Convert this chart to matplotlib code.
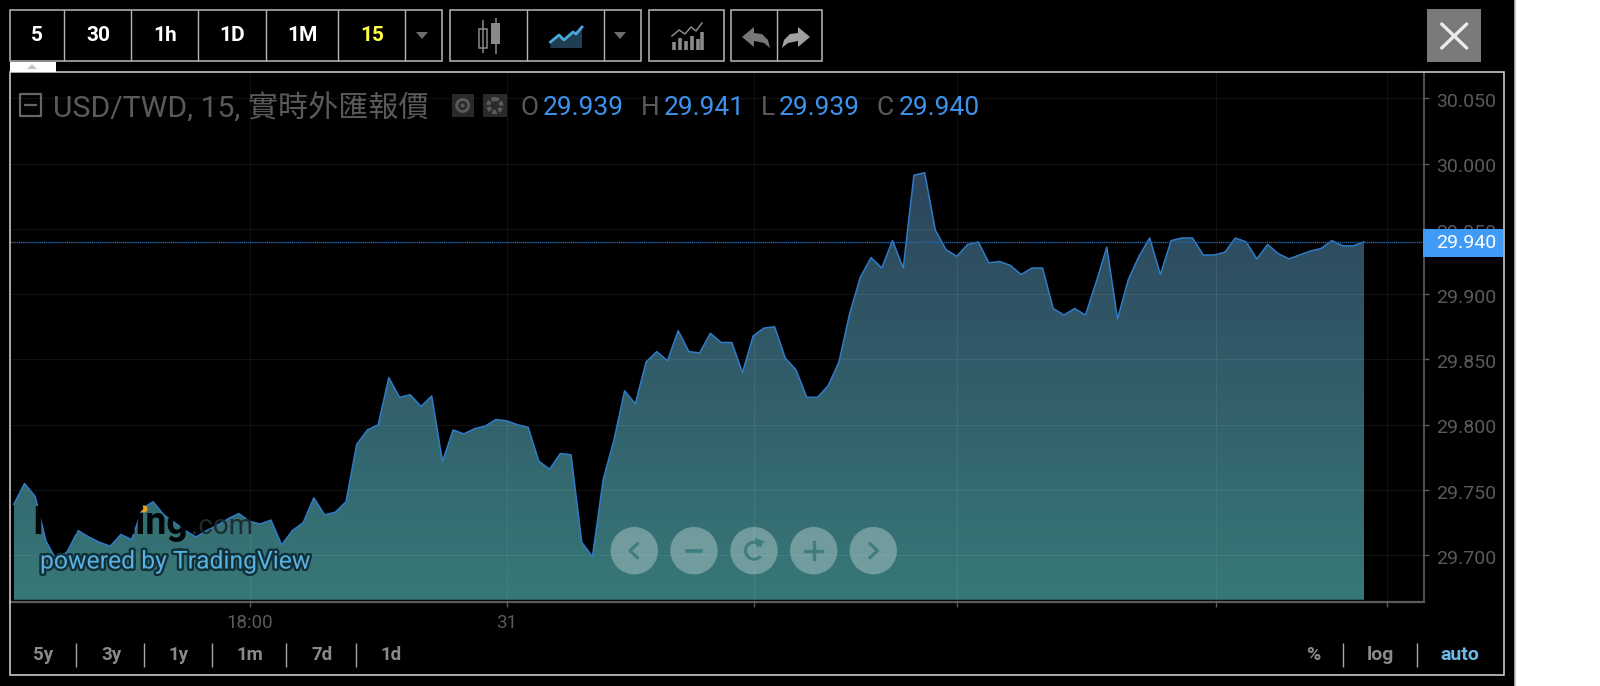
import numpy as np
import matplotlib
matplotlib.use("Agg")
import matplotlib.pyplot as plt
import matplotlib.patheffects as pe
from matplotlib.patches import Rectangle, Circle, Polygon, Arc
from matplotlib.transforms import ScaledTranslation

plt.rcParams['font.family'] = ['Roboto', 'Noto Sans CJK TC', 'DejaVu Sans']

W, H = 1600, 686

# 15 minute closes
closes = [
    29.739, 29.755, 29.745, 29.711, 29.696, 29.703, 29.719, 29.714, 29.710, 29.707,
    29.716, 29.712, 29.736, 29.741, 29.731, 29.725, 29.719, 29.714, 29.719, 29.723,
    29.728, 29.732, 29.726, 29.724, 29.727, 29.708, 29.719, 29.725, 29.744, 29.731,
    29.733, 29.741, 29.785, 29.796, 29.800, 29.836, 29.821, 29.823, 29.814, 29.822,
    29.772, 29.796, 29.793, 29.797, 29.799, 29.804, 29.803, 29.800, 29.798, 29.772,
    29.766, 29.778, 29.777, 29.710, 29.699, 29.758, 29.788, 29.826, 29.816, 29.848,
    29.856, 29.849, 29.872, 29.856, 29.855, 29.870, 29.863, 29.863, 29.840, 29.868,
    29.874, 29.875, 29.851, 29.842, 29.821, 29.821, 29.830, 29.848, 29.885, 29.913,
    29.928, 29.920, 29.941, 29.920, 29.991, 29.993, 29.949, 29.934, 29.929, 29.938,
    29.940, 29.924, 29.925, 29.922, 29.915, 29.920, 29.920, 29.889, 29.884, 29.889,
    29.884, 29.909, 29.936, 29.881, 29.911, 29.929, 29.943, 29.915, 29.941, 29.943,
    29.943, 29.930, 29.930, 29.932, 29.943, 29.940, 29.927, 29.938, 29.931, 29.927,
    29.930, 29.933, 29.935, 29.941, 29.937, 29.937, 29.940,
]
last_price = 29.940
price_ticks = [29.70, 29.75, 29.80, 29.85, 29.90, 29.95, 30.00, 30.05]
time_ticks = [22, 46, 69.1, 88, 112.2, 128.1]
time_labels = ["18:00", "31", "", "", "", ""]

interval_labels = ["5", "30", "1h", "1D", "1M", "15"]
range_labels = ["5y", "3y", "1y", "1m", "7d", "1d"]
scale_labels = ["%", "log", "auto"]
ohlc_names = ["O", "H", "L", "C"]
ohlc_values = ["29.939", "29.941", "29.939", "29.940"]
title = "USD/TWD, 15, 實時外匯報價"

BLUE = "#3b93ee"
GREY = "#5a5a5a"

fig = plt.figure(figsize=(W / 100, H / 100), dpi=100, facecolor="black")

# main chart, placed by pixels
left, right, top, bottom = 9.5, 1423.7, 72, 601.7
ax = fig.add_axes([left / W, 1 - bottom / H, (right - left) / W, (bottom - top) / H])
ax.set_facecolor("black")
base = 29.666
x = np.arange(len(closes))
poly = ax.fill_between(x, closes, base, facecolor="none", edgecolor="none", zorder=2)
grad = np.zeros((256, 1, 3))
for c, (a, b) in enumerate(zip((44, 68, 92), (55, 120, 120))):
    grad[:, 0, c] = np.linspace(a, b, 256) / 255
im = ax.imshow(grad, extent=(0, len(closes) - 1, base, 29.993), aspect="auto", zorder=2)
im.set_clip_path(poly.get_paths()[0], transform=ax.transData)
ax.plot(x, closes, color="#2f7cc8", lw=1.1, zorder=3)
ax.axhline(last_price, color="#2563a8", lw=1.0, ls=(0, (1, 0.5)), zorder=4)
ax.set_xlim(-0.40, 131.57)
ax.set_ylim(29.6645, 30.0701)

ax.yaxis.tick_right()
ax.set_yticks(price_ticks)
ax.set_yticklabels(["%.3f" % p for p in price_ticks])
ax.set_xticks(time_ticks)
ax.set_xticklabels(time_labels)
ax.tick_params(axis="y", colors=GREY, labelsize=14, length=3.6, width=1, pad=5)
ax.tick_params(axis="x", colors=GREY, labelsize=13.5, length=3.6, width=1, pad=5)
nudge = ScaledTranslation(0, -1.2 / 72, fig.dpi_scale_trans)
for lab in ax.get_yticklabels():
    lab.set_transform(lab.get_transform() + nudge)
ax.grid(True, color="white", alpha=0.07, lw=0.8, zorder=5)
ax.set_axisbelow(False)
for s in ("left", "top"):
    ax.spines[s].set_visible(False)
for s in ("right", "bottom"):
    ax.spines[s].set_color("#5c5c5c")
ax.spines["right"].set_linewidth(1.2)
ax.spines["bottom"].set_linewidth(1.6)

# everything around the chart, in picture pixels
ui = fig.add_axes([0, 0, 1, 1], zorder=10)
ui.set_xlim(0, W)
ui.set_ylim(H, 0)
ui.axis("off")


def rect(x0, y0, x1, y1, fc="none", ec="none", lw=1.0, **kw):
    ui.add_patch(Rectangle((x0, y0), x1 - x0, y1 - y0, facecolor=fc, edgecolor=ec, linewidth=lw, **kw))


def vline(xp, y0, y1, color="#b5b5b5", lw=1.0):
    ui.plot([xp, xp], [y0, y1], color=color, lw=lw, solid_capstyle="butt")


def label(xp, yp, s, color="white", size=13, weight="normal", ha="center", **kw):
    return ui.text(xp, yp, s, color=color, fontsize=size, fontweight=weight, ha=ha, va="center", **kw)


def tri_down(xc, yc, color="#6e6e6e"):
    ui.add_patch(Polygon([(xc - 6, yc - 3), (xc + 6, yc - 3), (xc, yc + 4)], facecolor=color, edgecolor="none"))


# white strip on the right of the screenshot
rect(1515, 0, W, H, fc="white")
vline(1515, 0, H, color="#bdbdbd", lw=1.2)

# frame
rect(left, top, 1503.7, 675, ec="#d8d8d8", lw=1.1)
rect(left, 62, 55.6, top, fc="white")
ui.add_patch(Polygon([(27, 69), (37, 69), (32, 64.5)], facecolor="#c4c4c4", edgecolor="none"))

# toolbar
for x0, x1, divs in [(9.5, 442, [64, 131, 197.6, 266, 338.4, 405]),
                     (450, 641, [527.3, 604]),
                     (649, 723.6, []),
                     (731, 822, [776.5])]:
    rect(x0, 9.5, x1, 61, ec="#b8b8b8", lw=1.1)
    for d in divs:
        vline(d, 9.5, 61)
for xp, s in zip([37, 98, 165, 232, 302, 372], interval_labels):
    label(xp, 35.5, s, color="#ffff44" if s == "15" else "white", size=15, weight="bold")
tri_down(422, 35)
tri_down(620, 35)

# candle icon
vline(483, 20, 53, color="#8a8a8a", lw=1.1)
rect(479, 29, 487, 48, fc="black", ec="#8a8a8a", lw=1.1)
vline(495.5, 18, 54, color="#8a8a8a", lw=1.1)
rect(491, 23, 500, 44, fc="#8a8a8a")

# area icon
area_pts = [(550.5, 42), (559, 35), (564, 40), (573, 32), (576, 34), (582, 27)]
ui.add_patch(Polygon(area_pts + [(582, 48), (550.5, 48)], facecolor="#1f3e52", edgecolor="none"))
ui.plot(*zip(*area_pts), color="#4aa8dc", lw=2.0)

# indicators icon
for xp, h in zip([674, 680, 686, 692, 698, 702], [8, 12, 9, 14, 11, 18]):
    ui.plot([xp, xp], [50, 50 - h], color="#8a8a8a", lw=2.6, solid_capstyle="butt")
ui.plot([672, 679, 685, 691, 696, 702], [36, 30, 34, 27, 31, 23], color="#8a8a8a", lw=1.1)

# undo, redo
undo = [(742, 37), (754, 27), (754, 33), (762, 34), (768, 40), (770, 48), (764, 43), (754, 41), (754, 47)]
ui.add_patch(Polygon(undo, facecolor="#777777", edgecolor="none"))
ui.add_patch(Polygon([(1552 - a, b) for a, b in undo], facecolor="#a0a0a0", edgecolor="none"))

# close button
rect(1427, 9, 1480.7, 62, fc="#7a7a7a")
ui.plot([1441.7, 1466.7], [24, 48], color="#ececec", lw=2.4, solid_capstyle="round")
ui.plot([1441.7, 1466.7], [48, 24], color="#ececec", lw=2.4, solid_capstyle="round")

# legend line
rect(20, 94, 41, 116, ec="#666666", lw=1.6, joinstyle="round")
ui.plot([25, 36], [105, 105], color="#666666", lw=1.6)
label(53, 109, title, color=GREY, size=21.7, ha="left")
rect(451.5, 94, 474, 117, fc="#2a2a2a")
ui.add_patch(Circle((462.7, 105.5), 6, facecolor="none", edgecolor="#5a5a5a", linewidth=2))
ui.add_patch(Circle((462.7, 105.5), 2, facecolor="#5a5a5a", edgecolor="none"))
rect(483, 94, 506.6, 117, fc="#2a2a2a")
ui.add_patch(Circle((494.8, 105.5), 6.5, facecolor="none", edgecolor="#5a5a5a", linewidth=3, linestyle=(0, (1, 0.5))))
for xn, xv, n, v in zip([521, 641, 761, 877], [543, 664, 779, 899], ohlc_names, ohlc_values):
    label(xn, 108, n, color=GREY, size=19, ha="left")
    label(xv, 108, v, color=BLUE, size=19, ha="left")

# last price tag
rect(1422.7, 228.7, 1503, 256.7, fc="#3f9bf5")
label(1435.7, 243.5, "%.3f" % last_price, color="white", size=14, ha="left")

# bottom buttons
for xp, s in zip([43.5, 111.5, 179, 250.3, 322, 390.7], range_labels):
    label(xp, 655, s, color="#8a8a8a", size=13.5, weight="bold")
for d in [76.3, 144.3, 212.3, 286.3, 355.9]:
    vline(d, 643, 667, color="#a8a8a8")
for xp, s, c in zip([1313, 1380.7, 1460], scale_labels, ["#8a8a8a", "#8a8a8a", "#6cb9e8"]):
    label(xp, 655, s, color=c, size=14, weight="bold")
for d in [1342.7, 1416.7]:
    vline(d, 643, 667, color="#a8a8a8")

# watermark
label(32, 523, "Investing", color="black", size=27, weight="bold", ha="left", alpha=0.95)
label(191, 527, ".com", color="#1c2c30", size=20, ha="left")
ui.add_patch(Circle((144, 509), 3.5, facecolor="#f0a020", edgecolor="none"))
label(40, 561.5, "powered by TradingView", color="#5ab0e0", size=17.8, ha="left",
      path_effects=[pe.withStroke(linewidth=3.5, foreground="#123038")])

# zoom buttons
btn_y = 550.7
for xp in [634.3, 694, 754, 813.7, 873.3]:
    ui.add_patch(Circle((xp, btn_y), 23.7, facecolor="white", edgecolor="none", alpha=0.3))
GL = "#3f7d7f"
ui.plot([637.5, 630, 637.5], [btn_y - 7, btn_y, btn_y + 7], color=GL, lw=2.2)
ui.plot([687, 701], [btn_y, btn_y], color=GL, lw=2.6)
ui.add_patch(Arc((754, btn_y), 17, 17, theta1=-320, theta2=-30, color=GL, lw=2.2))
ui.add_patch(Polygon([(755, btn_y - 13), (765, btn_y - 9), (757, btn_y - 3)], facecolor=GL, edgecolor="none"))
ui.plot([805, 822], [btn_y, btn_y], color=GL, lw=2.4)
ui.plot([813.7, 813.7], [btn_y - 8.5, btn_y + 8.5], color=GL, lw=2.4)
ui.plot([870, 877.5, 870], [btn_y - 7, btn_y, btn_y + 7], color=GL, lw=2.2)

fig.savefig("out.png", dpi=100, facecolor="black")
